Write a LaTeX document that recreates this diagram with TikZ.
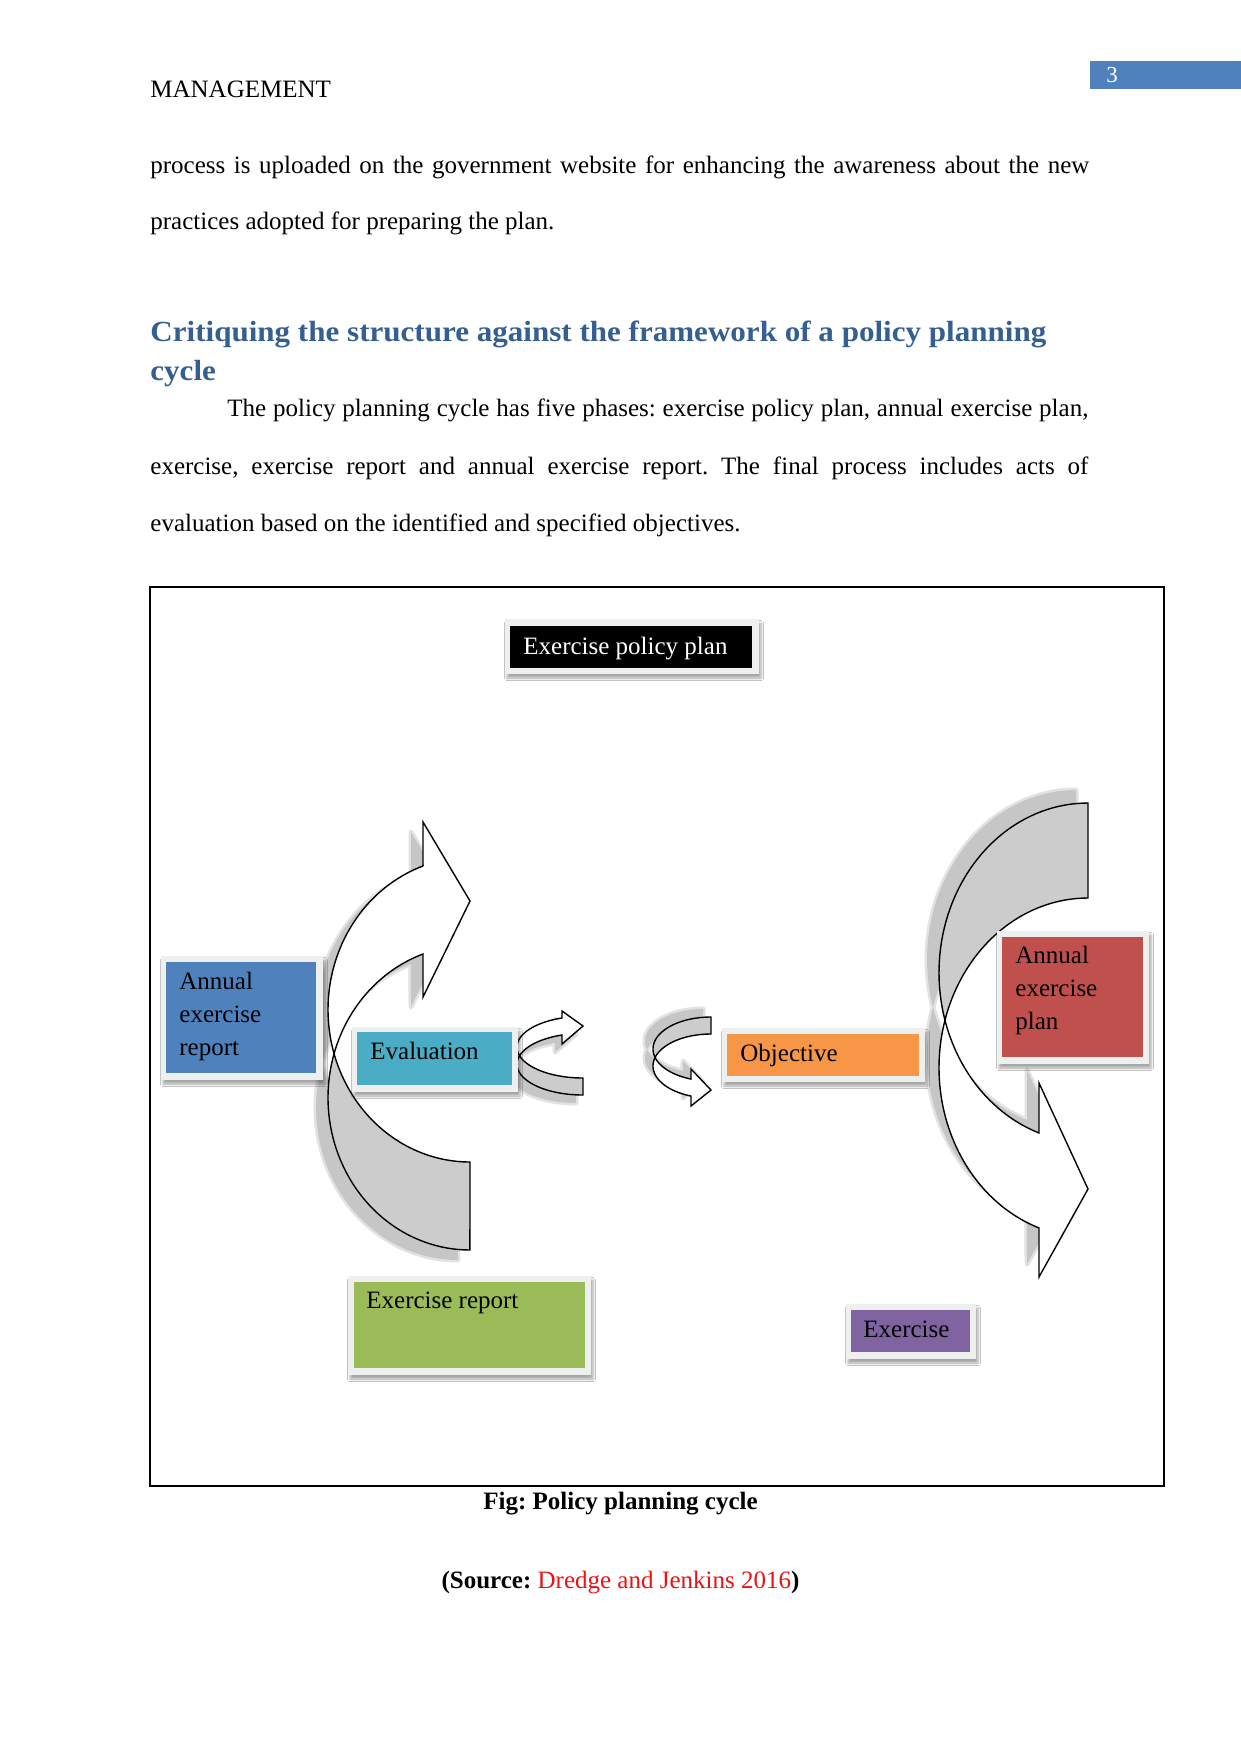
\documentclass[tikz,border=0pt]{standalone}
\usepackage{fontspec}
\usepackage{graphicx}
\setmainfont{Liberation Serif}
\usetikzlibrary{shadows.blur}
\frenchspacing
\definecolor{hblue}{HTML}{365F91}
\definecolor{accblue}{HTML}{4F81BD}
\definecolor{accteal}{HTML}{4BACC6}
\definecolor{accorange}{HTML}{F79646}
\definecolor{accred}{HTML}{C0504D}
\definecolor{accgreen}{HTML}{9BBB59}
\definecolor{accpurple}{HTML}{8064A2}
\definecolor{framecol}{HTML}{EEF0F0}
\definecolor{backgray}{HTML}{CCCCCC}
\definecolor{shcore}{HTML}{C6C6C6}
\definecolor{shedge}{HTML}{E2E2E2}
\definecolor{srcred}{HTML}{EE1111}
\newlength\pxu
\setlength\pxu{0.48pt}
\newcommand\EA[6]{plot[domain=0:1,samples=48,variable=\u]({#1+#3*cos(#5+(#6-#5)*\u)},{#2+#4*sin(#5+(#6-#5)*\u)})}
\newcommand\LEA[6]{-- plot[domain=0:1,samples=48,variable=\u]({#1+#3*cos(#5+(#6-#5)*\u)},{#2+#4*sin(#5+(#6-#5)*\u)})}
% left big arrow
\def\LBfront{(423,866) \LEA{470}{1009.7}{142}{152.3}{250.67}{163.2} \LEA{470}{1097.7}{142}{152.3}{196.8}{250.67} -- (423,997) -- (470,901) -- (423,822) -- cycle}
\def\LBback{\EA{470}{1097.7}{142}{152.3}{196.8}{90} -- (470,1162) \LEA{470}{1009.7}{142}{152.3}{90}{163.2} -- cycle}
% right big arrow
\def\RBback{\EA{1088}{972.7}{149}{169.7}{270}{163.75} \LEA{1088}{1067.7}{149}{169.7}{196.25}{270} -- cycle}
\def\RBfront{\EA{1088}{1067.7}{149}{169.7}{196.25}{109.2} -- (1039,1277) -- (1088,1189) -- (1039,1083) \LEA{1088}{972.7}{149}{169.7}{109.2}{163.75} -- cycle}
% small left arrow
\def\SLfront{\EA{583}{1047.2}{66}{30.8}{251.46}{164} \LEA{583}{1064.2}{66}{30.8}{196}{251.46} -- (562,1044) -- (583,1026) -- (562,1011) -- cycle}
\def\SLback{\EA{583}{1064.2}{66}{30.8}{196}{90} -- (583,1078) \LEA{583}{1047.2}{66}{30.8}{90}{164} -- cycle}
% small right arrow
\def\SRback{\EA{711}{1049}{58}{32}{270}{164.6} \LEA{711}{1066}{58}{32}{195.4}{270} -- cycle}
\def\SRfront{\EA{711}{1066}{58}{32}{195.4}{110.2} -- (691,1106) -- (711,1090) -- (691,1069) \LEA{711}{1049}{58}{32}{110.2}{164.6} -- cycle}
\begin{document}
\begin{tikzpicture}[x=0.48pt,y=-0.48pt,
  txt/.style={inner sep=0pt,anchor=base west,font=\fontsize{12pt}{14.4pt}\selectfont},
  lbl/.style={inner sep=0pt,anchor=base west,text width=#1,align=left,font=\fontsize{12pt}{15.84pt}\selectfont},
  head/.style={inner sep=0pt,anchor=base west,text=hblue,font=\fontsize{14pt}{16pt}\selectfont\bfseries},
  cbox/.style={inner sep=0pt,anchor=north west,draw=none},
  frm/.style={fill=framecol,blur shadow={shadow xshift=2\pxu,shadow yshift=-4\pxu,shadow opacity=35,shadow blur radius=2.5\pxu}},
  afront/.style={fill=white,draw=black,line width=1.4\pxu,line join=miter},
  aback/.style={fill=backgray,draw=black,line width=1.4\pxu},
  shadowsoft/.style={draw=shedge,line width=5\pxu,line join=round},
  shadowcore/.style={fill=shcore}
]
\useasboundingbox (0,0) rectangle (1241,1754);
\fill[white] (0,0) rectangle (1241,1754);

% header
\node[txt] (hdr) at (150,97) {MANAGEMENT};
\node[cbox,fill=accblue,minimum width=151\pxu,minimum height=28\pxu] (pgbox) at (1090,61) {};
\node[txt,text=white,font=\fontsize{11pt}{13pt}\selectfont] (pg) at (1106,82) {3};

% body text
\node[txt] (l1) at (150,173) {\makebox[939\pxu][s]{process is uploaded on the government website for enhancing the awareness about the new}};
\node[txt] (l2) at (150,229) {practices adopted for preparing the plan.};
\node[head] (h1) at (150,341) {\scalebox{1.065}[1]{Critiquing the structure against the framework of a policy planning}};
\node[head] (h2) at (150,380) {\scalebox{1.065}[1]{cycle}};
\node[txt] (p1) at (227,416) {\makebox[861\pxu][s]{The policy planning cycle has five phases: exercise policy plan, annual exercise plan,}};
\node[txt] (p2) at (150,474) {\makebox[938\pxu][s]{exercise, exercise report and annual exercise report. The final process includes acts of}};
\node[txt] (p3) at (150,531) {evaluation based on the identified and specified objectives.};

% figure frame
\draw[line width=1.4\pxu] (150,587) rectangle (1164,1486);

% arrow shadows
\begin{scope}[shift={(-12,10)}]
  \path[shadowsoft] \LBfront \LBback;
  \path[shadowcore] \LBfront \LBback;
\end{scope}
\begin{scope}[shift={(-12,-13)}]
  \path[shadowsoft] \RBfront \RBback;
  \path[shadowcore] \RBfront \RBback;
\end{scope}
\begin{scope}[shift={(-7,8)}]
  \path[shadowsoft] \SLfront \SLback;
  \path[shadowcore] \SLfront \SLback;
\end{scope}
\begin{scope}[shift={(-8,-8)}]
  \path[shadowsoft] \SRfront \SRback;
  \path[shadowcore] \SRfront \SRback;
\end{scope}

% arrows
\filldraw[aback] \LBback;
\filldraw[afront] \LBfront;
\filldraw[aback] \RBback;
\filldraw[afront] \RBfront;
\filldraw[aback] \SLback;
\filldraw[afront] \SLfront;
\filldraw[aback] \SRback;
\filldraw[afront] \SRfront;

% boxes
\fill[frm] (505,619) rectangle (759,674);
\node[cbox,fill=black,minimum width=242\pxu,minimum height=42\pxu] (epp) at (510,626) {};
\node[txt,text=white] (eppt) at (523,654) {Exercise policy plan};

\fill[frm] (161,956) rectangle (323,1080);
\node[cbox,fill=accblue,minimum width=150\pxu,minimum height=111\pxu] (aer) at (166,962) {};
\node[lbl=130\pxu] (aert) at (179,989) {Annual\\exercise\\report};

\fill[frm] (352,1027) rectangle (518,1092);
\node[cbox,fill=accteal,minimum width=155\pxu,minimum height=53\pxu] (ev) at (357,1032) {};
\node[txt] (evt) at (370,1059) {Evaluation};

\fill[frm] (722,1028) rectangle (925,1082);
\node[cbox,fill=accorange,minimum width=192\pxu,minimum height=42\pxu] (obj) at (727,1034) {};
\node[txt] (objt) at (740,1061) {Objective};

\fill[frm] (997,931) rectangle (1149,1064);
\node[cbox,fill=accred,minimum width=141\pxu,minimum height=120\pxu] (aep) at (1002,937) {};
\node[lbl=125\pxu] (aept) at (1015,963) {Annual\\exercise\\plan};

\fill[frm] (348,1276) rectangle (591,1375);
\node[cbox,fill=accgreen,minimum width=231\pxu,minimum height=86\pxu] (er) at (354,1282) {};
\node[txt] (ert) at (366,1308) {Exercise report};

\fill[frm] (846,1304) rectangle (976,1359);
\node[cbox,fill=accpurple,minimum width=119\pxu,minimum height=42\pxu] (ex) at (851,1310) {};
\node[txt] (ext) at (863,1337) {Exercise};

% caption
\node[txt,anchor=base] (cap) at (620.5,1509) {\bfseries Fig: Policy planning cycle};
\node[txt,anchor=base] (src) at (620.5,1588) {\bfseries (Source: \textcolor{srcred}{\mdseries Dredge and Jenkins 2016})};
\end{tikzpicture}
\end{document}
